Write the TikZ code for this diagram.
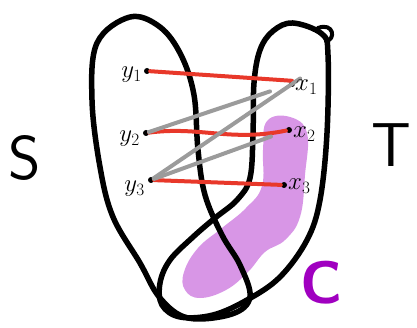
\documentclass[tikz,border=0pt]{standalone}
\usepackage{amsmath}
\usepackage{xcolor}
\usetikzlibrary{calc}
\definecolor{edgered}{RGB}{232, 56, 42}
\definecolor{edgegray}{RGB}{155, 155, 155}
\definecolor{blobpurple}{RGB}{216, 150, 230}
\definecolor{cpurple}{RGB}{160, 0, 192}
\tikzset{
  loopline/.style={line width=5.5pt, line join=round, black},
  rededge/.style={line width=4pt, edgered, line cap=round},
  grayedge/.style={line width=4pt, edgegray, line cap=round},
  dot/.style={circle, fill=black, inner sep=0pt, minimum size=6pt},
  vlabel/.style={font=\fontsize{23}{23}\selectfont, inner sep=1pt},
  biglabel/.style={font=\fontsize{62}{62}\selectfont\sffamily, inner sep=0pt}
}
\begin{document}
\begin{tikzpicture}[x=1pt, y=-1pt]
    \useasboundingbox (0,0) rectangle (417,328);

    % Mancha C
    \fill[blobpurple] plot[smooth cycle, tension=0.7] coordinates {
      (267,121) (290,117) (307,133) (305,175) (300,217) (285,240)
      (265,252) (248,272) (226,290) (200,298) (185,290) (184,272)
      (198,248) (222,228) (246,208) (262,186) (263,150)};

    % Lazo S
    \draw[loopline] plot[smooth cycle, tension=0.6] coordinates {
      (130,17) (97,43) (92,100) (100,167) (113,217) (140,263)
      (160,298) (188,318) (232,314) (250,297) (240,265) (222,235)
      (205,195) (198,150) (194,95) (181,55) (160,27)};

    % Lazo T
    \draw[loopline] plot[smooth cycle, tension=0.6] coordinates {
      (293,23) (322,34) (328,55) (327,133) (320,200) (307,240)
      (280,277) (247,300) (213,315) (180,317) (162,305) (160,283)
      (170,260) (193,237) (215,218) (237,200) (250,178) (253,133)
      (254,83) (260,50) (273,31)};
    % rizo arriba a la derecha
    \draw[line width=4pt, line cap=round] (318,28) .. controls (334,22) and (336,40) .. (326,41);

    % Vertices
    \node[dot] (y1) at (147,71) {};
    \node[dot] (y2) at (146,133) {};
    \node[dot] (y3) at (151,180) {};
    \node[dot] (x1) at (292,84) {};
    \node[dot] (x2) at (289,130) {};
    \node[dot] (x3) at (284,185) {};

    % Aristas rojas
    \draw[rededge] (y1) -- (x1.north);
    \draw[rededge] (y2) .. controls (200,126) and (230,142) .. (x2);
    \draw[rededge] (y3) -- (x3);

    % Aristas grises
    \draw[grayedge, shorten >=20pt] (y2) -- (x1);
    \draw[grayedge, shorten >=-13pt] (y3) -- (x1);
    \draw[grayedge, shorten >=16pt] (y3) -- (x2);

    % Etiquetas
    \node[vlabel, left=4pt] (ly1) at ($(y1)+(0,4)$) {$y_{1}$};
    \node[vlabel, left=4pt] (ly2) at ($(y2)+(-1,6)$) {$y_{2}$};
    \node[vlabel, left=4pt] (ly3) at ($(y3)+(-1,9)$) {$y_{3}$};
    \node[vlabel, right=2pt] (lx1) at ($(x1)+(0,3)$) {$x_{1}$};
    \node[vlabel, right=3pt] (lx2) at ($(x2)+(0,4)$) {$x_{2}$};
    \node[vlabel, right=3pt] (lx3) at ($(x3)+(0,1)$) {$x_{3}$};

    \node[biglabel] (S) at (25,158) {S};
    \node[biglabel] (T) at (391,145) {T};
    \node[biglabel, cpurple, font=\fontsize{60}{60}\selectfont\sffamily\bfseries] (C) at (322,283) {C};
\end{tikzpicture}
\end{document}
